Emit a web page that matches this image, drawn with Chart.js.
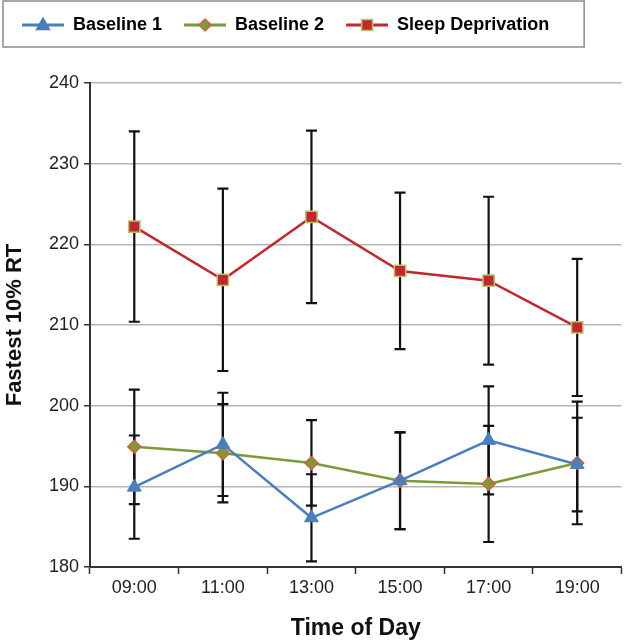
<!DOCTYPE html>
<html>
<head>
<meta charset="utf-8">
<script src="https://cdn.jsdelivr.net/npm/chart.js@4.4.1/dist/chart.umd.min.js"></script>
<style>
  body { margin: 0; background: #fff; }
  canvas { display: block; }
</style>
</head>
<body>
<canvas id="rtChart" width="631" height="644"></canvas>
<script>
// values (means and +/- error)
var times = ["09:00", "11:00", "13:00", "15:00", "17:00", "19:00"];
var baseline1 = [189.9, 195.2, 186.1, 190.7, 195.7, 192.7];
var baseline1Err = [6.4, 6.4, 5.4, 6.0, 6.7, 5.8];
var baseline2 = [194.9, 194.1, 192.9, 190.7, 190.3, 192.9];
var baseline2Err = [7.1, 6.1, 5.3, 6.0, 7.2, 7.6];
var sleepDep = [222.2, 215.6, 223.4, 216.7, 215.5, 209.7];
var sleepDepErr = [11.8, 11.3, 10.7, 9.7, 10.4, 8.5];
var yTicks = [180, 190, 200, 210, 220, 230, 240];

var fontFam = "'Liberation Sans', Arial, sans-serif";
var blue = "#4a7ebf", green = "#7b9b3b", red = "#c4262d";

// little line+marker picture for the legend
function legendIcon(lineColor, shape, fill, border) {
  var c = document.createElement("canvas");
  c.width = 52;
  c.height = 22;
  var ctx = c.getContext("2d");
  var cx = 31, cy = 11;
  ctx.strokeStyle = lineColor;
  ctx.lineWidth = 3;
  ctx.beginPath();
  ctx.moveTo(10, cy);
  ctx.lineTo(52, cy);
  ctx.stroke();
  ctx.fillStyle = fill;
  ctx.strokeStyle = border;
  ctx.lineWidth = 1.5;
  ctx.beginPath();
  if (shape === "triangle") {
    ctx.moveTo(cx, cy - 7);
    ctx.lineTo(cx + 6.5, cy + 4.5);
    ctx.lineTo(cx - 6.5, cy + 4.5);
  } else if (shape === "diamond") {
    ctx.moveTo(cx, cy - 6);
    ctx.lineTo(cx + 6, cy);
    ctx.lineTo(cx, cy + 6);
    ctx.lineTo(cx - 6, cy);
  } else {
    ctx.rect(cx - 5.5, cy - 5.5, 11, 11);
  }
  ctx.closePath();
  ctx.fill();
  ctx.stroke();
  return c;
}

var icons = [
  legendIcon(blue, "triangle", blue, blue),
  legendIcon(green, "diamond", green, "#d4603a"),
  legendIcon(red, "square", red, "#b3c66b")
];

// error bars drawn under the lines, positioned with the y scale
var errorBars = {
  id: "errorBars",
  beforeDatasetsDraw: function (chart) {
    var ctx = chart.ctx;
    var y = chart.scales.y;
    ctx.save();
    ctx.strokeStyle = "#111";
    ctx.lineWidth = 2.2;
    chart.data.datasets.forEach(function (ds, i) {
      var meta = chart.getDatasetMeta(i);
      meta.data.forEach(function (pt, j) {
        var top = y.getPixelForValue(ds.data[j] + ds.errors[j]);
        var bot = y.getPixelForValue(ds.data[j] - ds.errors[j]);
        ctx.beginPath();
        ctx.moveTo(pt.x, top);
        ctx.lineTo(pt.x, bot);
        ctx.moveTo(pt.x - 5.5, top);
        ctx.lineTo(pt.x + 5.5, top);
        ctx.moveTo(pt.x - 5.5, bot);
        ctx.lineTo(pt.x + 5.5, bot);
        ctx.stroke();
      });
    });
    ctx.restore();
  }
};

// legend: reserve the space above the plot and draw the frame round it
var legendFrame = {
  id: "legendFrame",
  beforeLayout: function (chart) {
    var lg = chart.legend;
    if (lg && !lg._patched) {
      var fit = lg.fit;
      lg.fit = function () {
        fit.call(this);
        this.height = 79;
      };
      lg._patched = true;
    }
  },
  afterDraw: function (chart) {
    var hb = chart.legend.legendHitBoxes;
    if (!hb || !hb.length) return;
    var last = hb[hb.length - 1];
    var left = hb[0].left - 9;
    var ctx = chart.ctx;
    ctx.save();
    ctx.strokeStyle = "#8a8a8a";
    ctx.lineWidth = 1.5;
    ctx.strokeRect(left, 1, last.left + last.width + 35 - left, 46);
    ctx.restore();
  }
};

new Chart(document.getElementById("rtChart"), {
  type: "line",
  data: {
    labels: times,
    datasets: [
      {
        label: "Baseline 1",
        data: baseline1,
        errors: baseline1Err,
        borderColor: blue,
        backgroundColor: blue,
        borderWidth: 2.5,
        pointStyle: "triangle",
        pointRadius: 8,
        pointBorderColor: blue,
        pointBackgroundColor: blue,
        pointBorderWidth: 1,
        tension: 0
      },
      {
        label: "Baseline 2",
        data: baseline2,
        errors: baseline2Err,
        borderColor: green,
        backgroundColor: green,
        borderWidth: 2.5,
        pointStyle: "rectRot",
        pointRadius: 6.5,
        pointBorderColor: "#d4603a",
        pointBackgroundColor: green,
        pointBorderWidth: 1.5,
        tension: 0
      },
      {
        label: "Sleep Deprivation",
        data: sleepDep,
        errors: sleepDepErr,
        borderColor: red,
        backgroundColor: red,
        borderWidth: 2.5,
        pointStyle: "rect",
        pointRadius: 8,
        pointBorderColor: "#b3c66b",
        pointBackgroundColor: red,
        pointBorderWidth: 1.5,
        tension: 0
      }
    ]
  },
  options: {
    responsive: false,
    animation: false,
    layout: { padding: { top: 4, left: 0, right: 1, bottom: 0 } },
    plugins: {
      tooltip: { enabled: false },
      legend: {
        position: "top",
        align: "start",
        labels: {
          usePointStyle: true,
          pointStyleWidth: 52,
          padding: 12,
          color: "#111",
          font: { family: fontFam, size: 18, weight: "bold" },
          generateLabels: function (chart) {
            return chart.data.datasets.map(function (ds, i) {
              return {
                text: ds.label,
                pointStyle: icons[i],
                fillStyle: ds.borderColor,
                strokeStyle: ds.borderColor,
                lineWidth: 0,
                hidden: false,
                datasetIndex: i
              };
            });
          }
        }
      }
    },
    scales: {
      x: {
        offset: true,
        afterFit: function (s) { s.height = 77; },
        border: { color: "#333", width: 2 },
        grid: {
          offset: true,
          drawOnChartArea: false,
          drawTicks: true,
          tickLength: 7,
          tickColor: "#333",
          tickWidth: 1.5
        },
        ticks: {
          color: "#222",
          padding: 3,
          font: { family: fontFam, size: 18 }
        },
        title: {
          display: true,
          text: "Time of Day",
          color: "#111",
          padding: { top: 0, bottom: 2 },
          font: { family: fontFam, size: 23, weight: "bold" }
        }
      },
      y: {
        min: 180,
        max: 240,
        afterFit: function (s) { s.width = 90; },
        afterBuildTicks: function (s) {
          s.ticks = yTicks.map(function (v) { return { value: v }; });
        },
        border: { color: "#333", width: 2 },
        grid: {
          color: "#b5b5b5",
          lineWidth: 1.5,
          drawTicks: true,
          tickLength: 6,
          tickColor: "#333",
          tickWidth: 1.5
        },
        ticks: {
          color: "#222",
          padding: 5,
          font: { family: fontFam, size: 18 }
        },
        title: {
          display: true,
          text: "Fastest 10% RT",
          color: "#111",
          padding: { top: 2, bottom: 0 },
          font: { family: fontFam, size: 22, weight: "bold" }
        }
      }
    }
  },
  plugins: [errorBars, legendFrame]
});
</script>
</body>
</html>
